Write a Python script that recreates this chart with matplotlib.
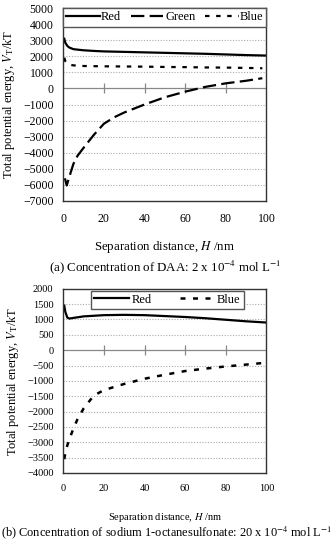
import numpy as np
import matplotlib.pyplot as plt

plt.rcParams['font.family'] = ['Liberation Serif', 'DejaVu Serif']
plt.rcParams['mathtext.fontset'] = 'stix'

# (a) DAA, 2 x 10^-4 mol/L
h_red_a = [0.5, 1, 2, 3, 5, 7, 10, 15, 20, 30, 40, 50, 60, 70, 80, 90, 100]
red_a = [3100, 2850, 2650, 2550, 2450, 2420, 2380, 2340, 2310, 2280, 2250,
         2220, 2190, 2160, 2120, 2080, 2050]
h_green_a = [0.8, 1.7, 3, 5, 7, 10, 15, 20, 25, 30, 40, 50, 60, 70, 80, 90, 98]
green_a = [-5600, -6050, -5500, -4700, -4200, -3700, -2900, -2200, -1800,
           -1500, -1000, -550, -200, 100, 320, 480, 640]
h_blue_a = [0.5, 1, 2, 3, 5, 7, 10, 15, 20, 30, 40, 50, 60, 70, 80, 90, 98]
blue_a = [1920, 1700, 1550, 1480, 1440, 1420, 1400, 1390, 1380, 1370, 1360,
          1340, 1330, 1310, 1300, 1280, 1260]

# (b) sodium 1-octanesulfonate, 20 x 10^-4 mol/L
h_red_b = [0.5, 1, 2, 3, 5, 10, 20, 30, 40, 50, 60, 70, 80, 90, 100]
red_b = [1450, 1250, 1060, 1030, 1050, 1100, 1140, 1150, 1140, 1110, 1080,
         1040, 990, 940, 900]
h_blue_b = [0.5, 1, 2, 3, 5, 7, 10, 15, 20, 30, 40, 50, 60, 70, 80, 90, 98]
blue_b = [-3550, -3350, -3100, -2900, -2550, -2250, -1900, -1480, -1300,
          -1100, -930, -800, -680, -600, -530, -470, -420]

xticks = [0, 20, 40, 60, 80, 100]


def style(ax, ylim, ystep, fs, xpad):
    ax.set_xlim(0, 100)
    ax.set_ylim(*ylim)
    yt = np.arange(ylim[0], ylim[1] + 1, ystep)
    ax.set_yticks(yt)
    ax.set_xticks(xticks)
    for y in yt:
        if y != 0 and y != ylim[0] and y != ylim[1]:
            ax.axhline(y, color='#aaaaaa', lw=0.8, ls=(0, (1, 1.5)), zorder=0)
    ax.axhline(0, color='#888888', lw=0.9, zorder=1)
    ax.plot(xticks[1:-1], [0] * 4, ls='none', marker='|', ms=7,
            mew=0.9, color='#888888', zorder=1)
    ax.tick_params(length=0, labelsize=fs)
    ax.tick_params(axis='y', pad=7)
    ax.tick_params(axis='x', pad=xpad)
    for s in ax.spines.values():
        s.set_color('#333333')
        s.set_linewidth(1.0)
    ax.set_ylabel('Total potential energy, $V_{\\rm T}$/kT', fontsize=9,
                  labelpad=4)


fig = plt.figure(figsize=(3.33, 5.5), dpi=100)

ax1 = fig.add_axes([0.19, 0.635, 0.61, 0.35])
ax1.plot(h_red_a, red_a, color='black', lw=1.6, label='Red')
ax1.plot(h_green_a, green_a, color='black', lw=1.6, dashes=(6, 2.4),
         label='Green')
ax1.plot(h_blue_a, blue_a, color='black', lw=1.6, dashes=(2, 3), label='Blue')
style(ax1, (-7000, 5000), 1000, 8.5, 9)
ax1.legend(ncol=3, loc='upper left', bbox_to_anchor=(0.0, 1.0, 1.0, 0),
           mode='expand', fancybox=False, edgecolor='#555555', framealpha=1,
           fontsize=9, handlelength=2.7, handletextpad=0.05,
           borderpad=0.25, borderaxespad=0)
ax1.set_xlabel('Separation distance, $H$ /nm', fontsize=9.3, labelpad=10)
fig.text(0.495, 0.514, '(a) Concentration of DAA: 2 x 10$^{-4}$ mol L$^{-1}$',
         ha='center', va='center', fontsize=9.3)

ax2 = fig.add_axes([0.19, 0.14, 0.61, 0.335])
ax2.plot(h_red_b, red_b, color='black', lw=1.6, label='Red')
ax2.plot(h_blue_b, blue_b, color='black', lw=1.8, dashes=(2, 3), label='Blue')
style(ax2, (-4000, 2000), 500, 7.5, 8)
ax2.legend(ncol=2, loc='upper center', bbox_to_anchor=(0.513, 0.99),
           fancybox=False, edgecolor='#555555', framealpha=1,
           fontsize=9, handlelength=2.8, handletextpad=0.2,
           columnspacing=2.2, borderpad=0.25, borderaxespad=0)
ax2.set_xlabel('Separation distance, $H$ /nm', fontsize=7.5, labelpad=13)
fig.text(0.5, 0.031,
         '(b) Concentration of sodium 1-octanesulfonate: 20 x 10$^{-4}$ mol L$^{-1}$',
         ha='center', va='center', fontsize=8.9)

fig.savefig('out.png', dpi=100)
